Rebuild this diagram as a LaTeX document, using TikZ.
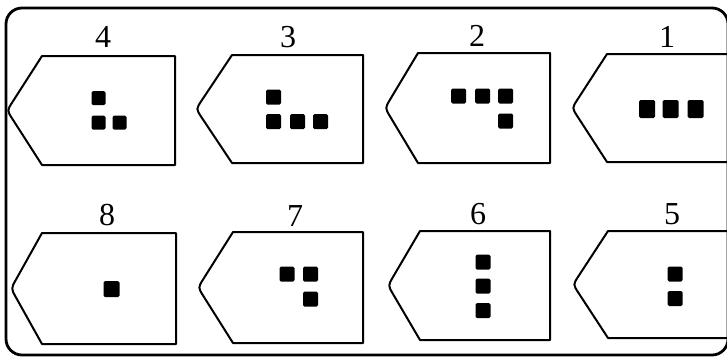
\documentclass[tikz,border=0pt]{standalone}
\usepackage{fontspec}
\setmainfont{Liberation Serif}
\usetikzlibrary{calc}
\tikzset{
  panelline/.style={line width=2pt, line join=round},
  frameline/.style={line width=2.8pt},
  sq/.style={fill=black, minimum width=15pt, minimum height=15pt, inner sep=0pt, rounded corners=1.5pt},
  num/.style={font=\fontsize{32}{32}\selectfont, anchor=base, inner sep=0pt}
}
% #1 L point x, #2 A corner x, #3 R right x, #4 T top y, #5 B bottom y
\newcommand{\tabpanel}[5]{%
  \coordinate (pTR) at (#3,#4);
  \coordinate (pTL) at (#2,#4);
  \coordinate (pP) at (#1,{(#4+#5)/2});
  \coordinate (pBL) at (#2,#5);
  \coordinate (pBR) at (#3,#5);
  \draw[panelline] (pTR) -- (pTL) -- ($(pP)!10pt!(pTL)$) .. controls (pP) .. ($(pP)!10pt!(pBL)$) -- (pBL) -- (pBR) -- cycle;
}
\begin{document}
\begin{tikzpicture}[x=1pt,y=-1pt]
\useasboundingbox (0,0) rectangle (727,360);
\begin{scope}
\clip (0,0) rectangle (727,360);
% outer frame
\draw[frameline, rounded corners=16pt] (6,8) rectangle (728,355);

% row 1
\tabpanel{7}{42}{175}{56}{165}
\tabpanel{196}{232}{363}{55}{163}
\tabpanel{385}{418}{550}{53}{163}
\tabpanel{572}{607}{745}{54}{162}
% row 2
\tabpanel{11}{42}{176}{233}{344}
\tabpanel{198}{233}{363}{232}{343}
\tabpanel{388}{420}{550}{231}{340}
\tabpanel{573}{608}{745}{231}{338}
\end{scope}

% numbers
\node[num] (n4) at (103,47) {4};
\node[num] (n3) at (288,47) {3};
\node[num] (n2) at (477,46) {2};
\node[num] (n1) at (667,47) {1};
\node[num] (n8) at (107,225) {8};
\node[num] (n7) at (295,226) {7};
\node[num] (n6) at (478,224) {6};
\node[num] (n5) at (672,224) {5};

% squares panel 4
\node[sq, minimum width=14pt, minimum height=14pt] (s4a) at (98.5,98) {};
\node[sq, minimum width=14pt, minimum height=14pt] (s4b) at (98.5,122.5) {};
\node[sq, minimum width=14pt, minimum height=14pt] (s4c) at (119.5,122.5) {};
% panel 3
\node[sq] (s3a) at (273.5,97) {};
\node[sq] (s3b) at (273.5,121.5) {};
\node[sq] (s3c) at (297.5,121.5) {};
\node[sq] (s3d) at (320.5,121.5) {};
% panel 2
\node[sq] (s2a) at (458.5,96) {};
\node[sq] (s2b) at (482.5,96) {};
\node[sq] (s2c) at (505.5,96) {};
\node[sq] (s2d) at (505.5,121) {};
% panel 1
\node[sq, minimum width=16pt, minimum height=18pt] (s1a) at (647,109) {};
\node[sq, minimum width=16pt, minimum height=18pt] (s1b) at (670.5,109) {};
\node[sq, minimum width=16pt, minimum height=18pt] (s1c) at (695.5,109) {};
% panel 8
\node[sq, minimum width=16pt, minimum height=16pt] (s8a) at (111.5,289) {};
% panel 7
\node[sq] (s7a) at (287,274) {};
\node[sq] (s7b) at (310.5,274) {};
\node[sq] (s7c) at (310.5,299) {};
% panel 6
\node[sq] (s6a) at (483,262) {};
\node[sq] (s6b) at (483,286) {};
\node[sq] (s6c) at (483,310.5) {};
% panel 5
\node[sq] (s5a) at (675,274) {};
\node[sq] (s5b) at (675,298.5) {};
\end{tikzpicture}
\end{document}
